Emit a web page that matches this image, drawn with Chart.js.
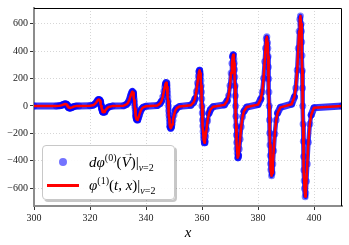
<!DOCTYPE html>
<html>
<head>
<meta charset="utf-8">
<script src="https://cdn.jsdelivr.net/npm/chart.js@4.4.1/dist/chart.umd.min.js"></script>
<style>
  html, body { margin: 0; padding: 0; background: #fff; }
  #wrap { position: relative; width: 349px; height: 245px; }
  #legend {
    position: absolute; left: 42px; top: 145px; width: 131px; height: 53px;
    background: rgba(255,255,255,0.92); border: 1px solid #c8c8c8; border-radius: 4px;
    box-shadow: 2px 2px 0 rgba(0,0,0,0.22);
    font-family: "Liberation Serif", "DejaVu Serif", serif; font-size: 15px; color: #000;
  }
  .row { position: absolute; left: 0; width: 100%; height: 20px; }
  .dot { position: absolute; left: 16px; top: 6px; width: 8px; height: 8px; border-radius: 50%; background: rgba(0,0,255,0.55); }
  .bar { position: absolute; left: 4px; top: 9px; width: 32px; height: 3px; background: #ff0000; }
  .txt { position: absolute; left: 46px; top: 0; white-space: nowrap; line-height: 20px; }
  .txt sup, .txt sub { font-size: 10px; line-height: 0; }
  .txt sub { vertical-align: -4px; }
  .txt sup { vertical-align: 6px; }
  .vec { position: relative; display: inline-block; }
  .vec .arr { position: absolute; left: 2px; top: -9px; font-size: 10px; font-style: normal; }
</style>
</head>
<body>
<div id="wrap">
  <canvas id="chart" width="349" height="245"></canvas>
  <div id="legend">
    <div class="row" style="top:6px"><span class="dot"></span><span class="txt"><i>d</i><i>φ</i><sup>(0)</sup>(<span class="vec"><i>V</i><span class="arr">→</span></span>)|<sub><i>v</i>=2</sub></span></div>
    <div class="row" style="top:29px"><span class="bar"></span><span class="txt"><i>φ</i><sup>(1)</sup>(<i>t</i>, <i>x</i>)|<sub><i>v</i>=2</sub></span></div>
  </div>
</div>
<script>
// sample positions (x) and field values, one pulse per line
const xValues = [
  300,
  308, 309, 309.5, 310, 310.4, 310.7, 310.95, 311.15, 311.4, 311.5, 311.6, 311.7, 311.8, 311.9, 312, 312.1, 312.2, 312.3, 312.4, 312.5, 312.6, 312.85, 313.05, 313.3, 313.6, 314, 314.5, 315, 316,
  320, 321, 321.5, 322, 322.4, 322.7, 322.95, 323.15, 323.4, 323.5, 323.6, 323.7, 323.8, 323.9, 324, 324.1, 324.2, 324.3, 324.4, 324.5, 324.6, 324.85, 325.05, 325.3, 325.6, 326, 326.5, 327, 328,
  332, 333, 333.5, 334, 334.4, 334.7, 334.95, 335.15, 335.4, 335.5, 335.6, 335.7, 335.8, 335.9, 336, 336.1, 336.2, 336.3, 336.4, 336.5, 336.6, 336.85, 337.05, 337.3, 337.6, 338, 338.5, 339, 340,
  344, 345, 345.5, 346, 346.4, 346.7, 346.95, 347.15, 347.4, 347.5, 347.6, 347.7, 347.8, 347.9, 348, 348.1, 348.2, 348.3, 348.4, 348.5, 348.6, 348.85, 349.05, 349.3, 349.6, 350, 350.5, 351, 352,
  356, 357, 357.5, 358, 358.4, 358.7, 358.95, 359.15, 359.4, 359.5, 359.6, 359.7, 359.8, 359.9, 360, 360.1, 360.2, 360.3, 360.4, 360.5, 360.6, 360.85, 361.05, 361.3, 361.6, 362, 362.5, 363, 364,
  368, 369, 369.5, 370, 370.4, 370.7, 370.95, 371.15, 371.4, 371.5, 371.6, 371.7, 371.8, 371.9, 372, 372.1, 372.2, 372.3, 372.4, 372.5, 372.6, 372.85, 373.05, 373.3, 373.6, 374, 374.5, 375, 376,
  380, 381, 381.5, 382, 382.4, 382.7, 382.95, 383.15, 383.4, 383.5, 383.6, 383.7, 383.8, 383.9, 384, 384.1, 384.2, 384.3, 384.4, 384.5, 384.6, 384.85, 385.05, 385.3, 385.6, 386, 386.5, 387, 388,
  392, 393, 393.5, 394, 394.4, 394.7, 394.95, 395.15, 395.4, 395.5, 395.6, 395.7, 395.8, 395.9, 396, 396.1, 396.2, 396.3, 396.4, 396.5, 396.6, 396.85, 397.05, 397.3, 397.6, 398, 398.5, 399, 400,
  410
];
const yValues = [
  0,
  0, 1, 3, 6, 10, 12, 14, 15, 14, 12, 11, 8, 6, 3, 0, -3, -6, -8, -11, -12, -14, -15, -14, -12, -10, -6, -3, -1, 0,
  1, 5, 10, 19, 31, 40, 46, 48, 44, 40, 34, 27, 19, 10, 0, -10, -19, -27, -34, -40, -44, -46, -44, -38, -30, -18, -9, -5, -1,
  2, 11, 21, 42, 67, 87, 101, 105, 96, 87, 75, 59, 41, 21, 0, -21, -41, -59, -75, -87, -96, -102, -98, -85, -65, -41, -20, -10, -2,
  3, 17, 34, 67, 108, 139, 161, 170, 153, 139, 119, 94, 66, 34, 0, -34, -66, -94, -119, -139, -153, -162, -156, -135, -104, -65, -32, -16, -3,
  5, 26, 52, 105, 168, 218, 252, 260, 238, 218, 186, 147, 102, 52, 0, -52, -102, -147, -186, -218, -242, -268, -257, -222, -171, -107, -54, -27, -5,
  8, 38, 75, 150, 241, 312, 361, 374, 342, 312, 267, 211, 147, 75, 0, -75, -147, -211, -267, -312, -345, -378, -363, -314, -242, -151, -76, -38, -8,
  10, 51, 102, 203, 325, 422, 488, 506, 462, 422, 361, 285, 198, 102, 0, -102, -198, -285, -361, -422, -465, -510, -490, -423, -326, -204, -102, -51, -10,
  13, 66, 132, 263, 421, 546, 632, 656, 599, 546, 467, 369, 257, 132, 0, -132, -257, -369, -467, -546, -602, -662, -636, -549, -424, -265, -132, -66, -13,
  0
];
const xTicks = [300, 320, 340, 360, 380, 400];
const yTicks = [-600, -400, -200, 0, 200, 400, 600];

const points = xValues.map((x, i) => ({ x: x, y: yValues[i] }));
const tickFont = { family: "'Liberation Serif', 'DejaVu Serif', serif", size: 10 };
const minus = v => String(v).replace('-', '\u2212');

// the dense scatter reads as a wide band where the curve is flat, a thin rim where it is steep
const bandWidth = ctx => {
  const dx = Math.abs(ctx.p1.x - ctx.p0.x);
  const dy = Math.abs(ctx.p1.y - ctx.p0.y);
  return dy > 2.5 * dx + 1 ? 4.5 : 7;
};

// matplotlib-like frame: thin black top and right spines
const framePlugin = {
  id: 'frame',
  afterDraw(chart) {
    const a = chart.chartArea;
    const c = chart.ctx;
    c.save();
    c.strokeStyle = '#000';
    c.lineWidth = 1;
    c.beginPath();
    c.moveTo(a.left, a.top + 0.5);
    c.lineTo(a.right - 0.5, a.top + 0.5);
    c.lineTo(a.right - 0.5, a.bottom);
    c.stroke();
    c.restore();
  }
};

new Chart(document.getElementById('chart'), {
  type: 'scatter',
  data: {
    datasets: [
      {
        label: 'phi1',
        data: points,
        showLine: true,
        borderColor: '#ff0000',
        borderWidth: 2.5,
        borderJoinStyle: 'round',
        pointRadius: 0,
        tension: 0,
        order: 0,
      },
      {
        label: 'dphi0',
        data: points,
        showLine: true,
        borderColor: 'rgba(20,20,255,0.85)',
        borderWidth: 7,
        borderJoinStyle: 'round',
        borderCapStyle: 'round',
        segment: { borderWidth: bandWidth },
        backgroundColor: 'rgba(0,0,255,0.5)',
        pointBorderWidth: 0,
        pointRadius: 3.5,
        tension: 0,
        order: 1,
      },
    ],
  },
  plugins: [framePlugin],
  options: {
    responsive: false,
    animation: false,
    events: [],
    layout: { padding: { top: 6, right: 7, left: 0, bottom: 0 } },
    plugins: { legend: { display: false }, tooltip: { enabled: false } },
    scales: {
      x: {
        type: 'linear',
        min: 300,
        max: 410,
        afterBuildTicks: s => { s.ticks = xTicks.map(v => ({ value: v })); },
        afterFit: s => { s.height = 39; },
        ticks: { font: tickFont, color: '#222', padding: 2, callback: minus, maxRotation: 0 },
        grid: { color: '#d6d6d6', lineWidth: 1, tickLength: 4, tickColor: '#333', tickBorderDash: [] },
        border: { display: true, color: '#8c8c8c', width: 2, dash: [1, 2] },
        title: {
          display: true,
          text: 'x',
          font: { family: "'Liberation Serif', 'DejaVu Serif', serif", size: 15, style: 'italic' },
          color: '#000',
          padding: { top: 0, bottom: 3 },
        },
      },
      y: {
        type: 'linear',
        min: -730,
        max: 715,
        afterBuildTicks: s => { s.ticks = yTicks.map(v => ({ value: v })); },
        afterFit: s => { s.width = 34; },
        ticks: { font: tickFont, color: '#222', padding: 2, callback: minus },
        grid: { color: '#d6d6d6', lineWidth: 1, tickLength: 4, tickColor: '#333', tickBorderDash: [] },
        border: { display: true, color: '#8c8c8c', width: 2, dash: [1, 2] },
      },
    },
  },
});
</script>
</body>
</html>
